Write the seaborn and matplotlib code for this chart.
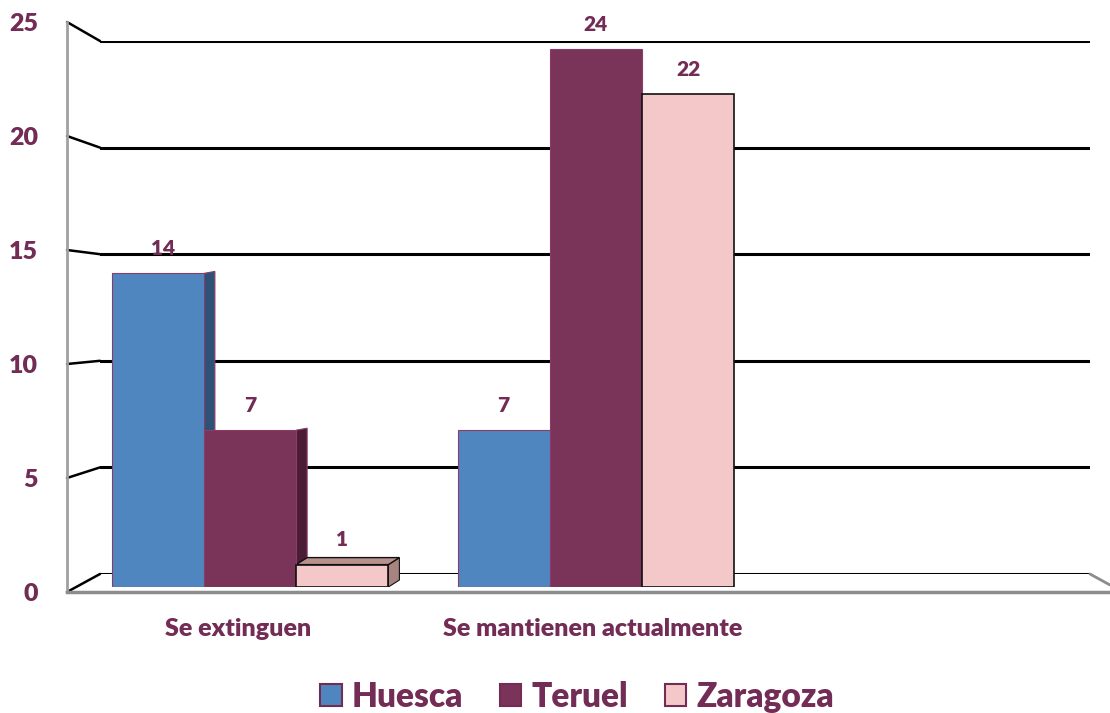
import pandas as pd
import matplotlib.pyplot as plt
import matplotlib.transforms as mtransforms
import seaborn as sns
from matplotlib.patches import Polygon, Patch
from matplotlib.lines import Line2D

# ------------------------------
# Data
# ------------------------------
categorias = ["Se extinguen", "Se mantienen actualmente"]
provincias = ["Huesca", "Teruel", "Zaragoza"]
huesca = [14, 7]
teruel = [7, 24]
zaragoza = [1, 22]
y_ticks = [0, 5, 10, 15, 20, 25]

colores = {"Huesca": "#4F86C0", "Teruel": "#7B3459", "Zaragoza": "#F4C8C8"}
lados = {"Huesca": "#2E5178", "Teruel": "#4A1C36", "Zaragoza": "#A88480"}
bordes = {"Huesca": "#8A3D66", "Teruel": "#8A3D66", "Zaragoza": "#111111"}
granate = "#722C55"
peso = "heavy"

df = pd.DataFrame({
    "categoria": categorias * 3,
    "provincia": sum([[p] * 2 for p in provincias], []),
    "valor": huesca + teruel + zaragoza,
})

sns.set_style("white")
plt.rcParams["font.family"] = ["Lato", "DejaVu Sans"]

W, H = 1110, 713
fig = plt.figure(figsize=(W / 100, H / 100), dpi=100)

def box(x0, x1, y_top, y_bot):
    return [x0 / W, (H - y_bot) / H, (x1 - x0) / W, (y_bot - y_top) / H]

# back wall (gridlines)
axw = fig.add_axes(box(100, 1090, 41, 574), zorder=0)
axw.set_ylim(0, 25)
axw.set_xlim(0, 1)
for v in y_ticks:
    axw.axhline(v, color="black", lw=2.2)
axw.axis("off")

# front axis with tick labels
ax = fig.add_axes(box(67, 1110, 22, 592), zorder=1)
ax.patch.set_alpha(0)
ax.set_ylim(0, 25)
ax.set_yticks(y_ticks)
ax.set_yticklabels([str(v) for v in y_ticks], fontsize=18, fontweight=peso, color=granate)
ax.tick_params(axis="y", length=0, pad=21)
ax.set_xticks([])
for s in ["top", "right"]:
    ax.spines[s].set_visible(False)
ax.spines["left"].set_color("#A0A0A0")
ax.spines["left"].set_linewidth(2)
ax.spines["bottom"].set_color("#8C8C8C")
ax.spines["bottom"].set_linewidth(2.5)

# bars
axb = fig.add_axes(box(67, 1090, 27, 587), zorder=2)
axb.patch.set_alpha(0)
sns.barplot(data=df, x="categoria", y="valor", hue="provincia", hue_order=provincias,
            palette=colores, width=0.8, saturation=1, legend=False, ax=axb)
axb.set_xlim(-0.529, 2.428)
axb.set_ylim(0, 25)
axb.set_xlabel("")
axb.set_ylabel("")
axb.set_yticks([])
axb.set_xticks(range(len(categorias)))
axb.set_xticklabels(categorias, fontsize=18, fontweight=peso, color=granate)
axb.tick_params(axis="x", length=0, pad=22)
for lbl, dxp in zip(axb.get_xticklabels(), [-12, -3]):
    lbl.set_transform(lbl.get_transform() + mtransforms.ScaledTranslation(dxp / 100, 0, fig.dpi_scale_trans))
for s in axb.spines.values():
    s.set_visible(False)

# connectors from front axis to back wall
fig.canvas.draw()
for v in y_ticks:
    _, yf = ax.transData.transform((0, v))
    _, yb = axw.transData.transform((0, v))
    fig.add_artist(Line2D([67 / W, 100 / W], [yf / H, yb / H], color="black", lw=1.8, zorder=1))
_, yb0 = axw.transData.transform((0, 0))
fig.add_artist(Line2D([1090 / W, 1110 / W], [yb0 / H, (yb0 - 11) / H], color="#8C8C8C", lw=2, zorder=1))

# pseudo-3D faces and value labels
inv = axb.transData.inverted()
dx = inv.transform((11, 0))[0] - inv.transform((0, 0))[0]
for prov, cont in zip(provincias, axb.containers):
    for i, bar in enumerate(cont):
        bar.set_edgecolor(bordes[prov])
        bar.set_linewidth(1.2 if prov == "Zaragoza" else 0.8)
        bar.set_zorder(3)
        x0, w, h = bar.get_x(), bar.get_width(), bar.get_height()
        if i == 0:
            x1 = x0 + w
            dy = inv.transform((0, 7 if prov == "Zaragoza" else 2))[1] - inv.transform((0, 0))[1]
            side = Polygon([(x1, 0), (x1 + dx, dy), (x1 + dx, h + dy), (x1, h)],
                           closed=True, facecolor=lados[prov], edgecolor=bordes[prov], lw=0.8, zorder=2)
            axb.add_patch(side)
            if prov == "Zaragoza":
                top = Polygon([(x0, h), (x0 + dx, h + dy), (x1 + dx, h + dy), (x1, h)],
                              closed=True, facecolor="#B8918E", edgecolor="#111111", lw=1, zorder=2)
                axb.add_patch(top)
        xc = x0 + w / 2 + (dx / 2 if (i == 0 and prov == "Huesca") else 0)
        axb.annotate(str(int(h)), (xc, h), xytext=(0, 11), textcoords="offset points",
                     ha="center", va="bottom", fontsize=15, fontweight=peso, color=granate)

# legend
handles = [Patch(facecolor=colores[p], edgecolor=granate, lw=1.5) for p in provincias]
fig.legend(handles, provincias, loc="center", bbox_to_anchor=(577 / W, 16 / H), ncol=3,
           frameon=False, handlelength=0.65, handleheight=0.65, handletextpad=0.3,
           columnspacing=1.1, prop={"size": 24, "weight": peso}, labelcolor=granate)

plt.savefig("out.png", dpi=100)
